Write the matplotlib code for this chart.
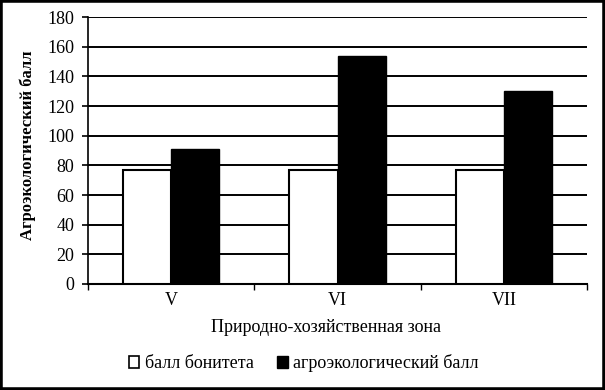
import matplotlib.pyplot as plt
from matplotlib.patches import Patch, Rectangle
import numpy as np

zones = ["V", "VI", "VII"]
bonitet = [77, 77, 77]
agro = [91, 154, 130]
yticks = [0, 20, 40, 60, 80, 100, 120, 140, 160, 180]

plt.rcParams['font.family'] = ['Liberation Serif', 'DejaVu Serif']

fig = plt.figure(figsize=(6.05, 3.9), dpi=100)
ax = fig.add_axes([0.1455, 0.272, 0.825, 0.684])

x = np.arange(len(zones)) + 0.5
w = 0.29
ax.bar(x - w / 2, bonitet, w, color='white', edgecolor='black', linewidth=1.5, zorder=3)
ax.bar(x + w / 2, agro, w, color='black', edgecolor='black', linewidth=1.0, zorder=3)

ax.set_xlim(0, 3)
ax.set_ylim(0, 180)
ax.set_yticks(yticks)
ax.yaxis.grid(True, color='black', linewidth=1.4, zorder=0)
ax.set_axisbelow(True)

ax.set_xticks([0, 1, 2, 3])
ax.set_xticklabels([])
ax.set_xticks(x, minor=True)
ax.set_xticklabels(zones, minor=True)
ax.tick_params(axis='x', which='major', length=4, width=1, direction='out')
ax.tick_params(axis='x', which='minor', length=0, pad=6, labelsize=13)
ax.tick_params(axis='y', length=4, width=1.2, labelsize=13, pad=6)

for s in ['top', 'right']:
    ax.spines[s].set_visible(False)
ax.spines['left'].set_linewidth(1.2)
ax.spines['bottom'].set_linewidth(1.5)

ax.set_xlabel("Природно-хозяйственная зона", fontsize=13)
ax.xaxis.set_label_coords(0.477, -0.132)
ax.set_ylabel("Агроэкологический балл", fontsize=12, fontweight='bold')
ax.yaxis.set_label_coords(-0.104, 0.52)

handles = [Patch(facecolor='white', edgecolor='black', linewidth=1.2),
           Patch(facecolor='black', edgecolor='black')]
fig.legend(handles, ["балл бонитета", "агроэкологический балл"], loc='center',
           bbox_to_anchor=(0.502, 0.068), ncol=2, frameon=False, fontsize=13,
           handlelength=0.6, handleheight=0.6, handletextpad=0.3, columnspacing=1.3)

fig.patches.append(Rectangle((0, 0), 1, 1, transform=fig.transFigure, fill=False,
                             edgecolor='black', linewidth=4))

fig.savefig("out.png", dpi=100)
